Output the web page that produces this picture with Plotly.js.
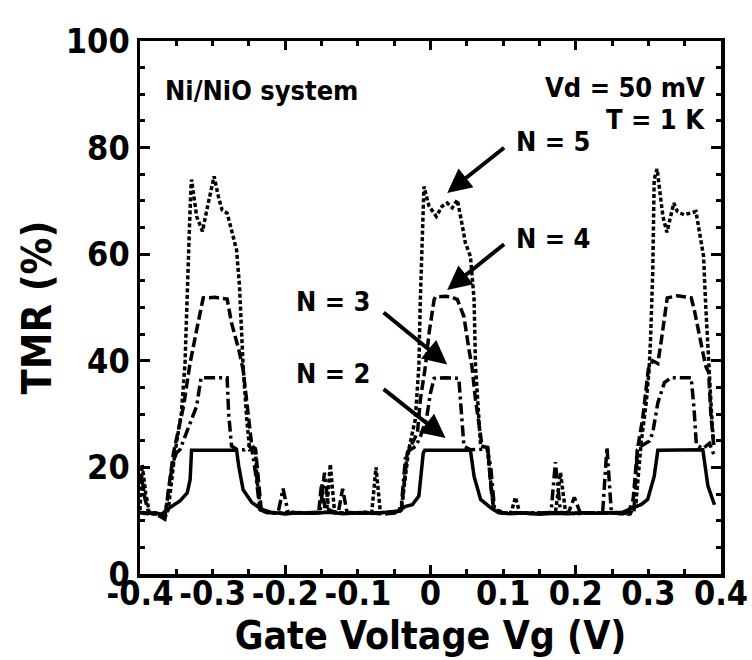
<!DOCTYPE html>
<html>
<head>
<meta charset="utf-8">
<script src="https://cdn.plot.ly/plotly-3.0.1.min.js"></script>
<style>html,body{margin:0;padding:0;background:#fff;}</style>
</head>
<body>
<div id="chart" style="width:752px;height:660px;"></div>
<script>
// ---- data ----
const n2X = [-0.400,-0.390,-0.380,-0.370,-0.363,-0.355,-0.345,-0.335,-0.331,-0.329,-0.300,-0.267,-0.264,-0.258,-0.246,-0.232,-0.220,-0.200,-0.180,-0.160,-0.140,-0.120,-0.100,-0.080,-0.060,-0.045,-0.034,-0.025,-0.016,-0.014,-0.010,-0.008,0.020,0.055,0.060,0.069,0.083,0.094,0.110,0.130,0.150,0.170,0.190,0.210,0.230,0.250,0.265,0.278,0.290,0.299,0.308,0.313,0.340,0.375,0.382,0.391];
const n2Y = [11.6,11.4,11.5,11.2,12.1,12.8,13.7,15.2,17.7,23.2,23.2,23.2,20.2,15.8,13.4,12.1,11.6,11.3,11.5,11.4,11.6,11.3,11.5,11.4,11.6,11.8,12.7,13.0,14.6,17.7,22.7,23.2,23.2,23.2,18.3,14.0,12.4,11.5,11.3,11.5,11.2,11.4,11.3,11.5,11.4,11.5,11.6,12.4,13.0,14.0,18.3,23.2,23.2,23.3,16.5,13.0];

const n3X = [-0.400,-0.390,-0.380,-0.372,-0.366,-0.356,-0.350,-0.345,-0.338,-0.322,-0.316,-0.300,-0.280,-0.278,-0.274,-0.266,-0.256,-0.250,-0.246,-0.240,-0.235,-0.225,-0.210,-0.203,-0.196,-0.180,-0.160,-0.152,-0.146,-0.140,-0.130,-0.110,-0.090,-0.070,-0.050,-0.044,-0.040,-0.034,-0.028,-0.020,-0.014,-0.012,-0.005,0.000,0.005,0.020,0.039,0.041,0.044,0.046,0.055,0.070,0.078,0.083,0.088,0.100,0.120,0.140,0.160,0.166,0.172,0.179,0.190,0.210,0.230,0.237,0.243,0.249,0.260,0.274,0.280,0.285,0.290,0.301,0.306,0.313,0.322,0.331,0.345,0.359,0.363,0.366,0.375,0.384,0.390];
const n3Y = [11.5,11.3,11.6,11.0,10.5,20.0,22.7,23.3,25.8,31.5,36.8,36.8,36.8,30.2,24.0,23.3,23.3,24.0,23.5,18.0,12.1,11.5,11.4,16.0,11.5,11.4,11.5,11.6,19.0,12.0,11.5,11.4,11.6,11.3,11.5,11.8,13.0,22.5,23.3,24.0,25.8,26.5,29.6,34.0,36.7,36.8,36.7,32.7,27.7,24.0,23.3,23.4,23.7,20.0,12.4,11.4,11.5,11.3,11.5,11.6,21.0,11.6,11.4,11.5,11.4,11.5,23.8,11.6,11.3,11.4,11.5,23.3,24.0,24.9,26.5,32.1,35.9,36.8,36.8,36.8,30.8,24.3,23.5,24.5,22.5];

const n4X = [-0.400,-0.398,-0.393,-0.388,-0.380,-0.372,-0.366,-0.354,-0.340,-0.331,-0.322,-0.313,-0.297,-0.280,-0.274,-0.264,-0.258,-0.251,-0.246,-0.241,-0.237,-0.233,-0.220,-0.200,-0.180,-0.160,-0.154,-0.150,-0.145,-0.130,-0.127,-0.121,-0.115,-0.100,-0.080,-0.060,-0.045,-0.040,-0.032,-0.018,-0.014,-0.007,-0.002,0.005,0.007,0.020,0.028,0.037,0.044,0.046,0.053,0.057,0.062,0.067,0.071,0.079,0.083,0.087,0.100,0.120,0.140,0.160,0.180,0.190,0.198,0.206,0.220,0.240,0.260,0.272,0.279,0.285,0.292,0.300,0.306,0.313,0.318,0.326,0.340,0.359,0.363,0.368,0.375,0.379,0.383,0.386,0.390];
const n4Y = [17.0,18.5,14.0,11.5,11.2,10.8,10.3,22.7,31.5,39.6,45.8,51.8,51.9,51.6,47.1,42.1,38.3,30.2,24.0,23.5,18.0,12.0,11.5,11.3,11.5,11.4,11.5,17.0,12.0,11.6,11.5,16.0,11.6,11.4,11.5,11.3,11.5,12.0,22.7,26.5,32.7,39.0,45.2,51.5,52.0,52.1,52.0,51.5,49.0,48.3,42.1,39.0,32.7,27.7,24.0,23.7,16.5,12.1,11.4,11.5,11.3,11.5,11.4,11.5,14.4,11.5,11.4,11.5,11.4,11.2,14.0,23.5,29.0,38.5,40.0,39.5,44.0,51.8,52.2,51.8,49.7,46.6,41.6,39.0,37.8,30.0,24.0];

const n5X = [-0.400,-0.397,-0.392,-0.387,-0.378,-0.370,-0.366,-0.361,-0.352,-0.343,-0.338,-0.335,-0.332,-0.330,-0.329,-0.322,-0.314,-0.306,-0.298,-0.292,-0.287,-0.280,-0.274,-0.267,-0.263,-0.260,-0.258,-0.253,-0.249,-0.241,-0.239,-0.234,-0.220,-0.210,-0.190,-0.170,-0.150,-0.143,-0.138,-0.132,-0.110,-0.090,-0.081,-0.075,-0.069,-0.055,-0.045,-0.041,-0.039,-0.030,-0.021,-0.016,-0.014,-0.012,-0.011,-0.009,-0.002,0.008,0.016,0.023,0.030,0.037,0.044,0.048,0.055,0.058,0.060,0.062,0.069,0.078,0.085,0.087,0.100,0.111,0.117,0.123,0.140,0.160,0.172,0.179,0.186,0.200,0.220,0.240,0.260,0.275,0.283,0.290,0.297,0.301,0.303,0.306,0.308,0.312,0.315,0.320,0.3255,0.331,0.335,0.340,0.349,0.3655,0.372,0.376,0.379,0.382,0.384,0.387,0.390];
const n5Y = [12.0,20.5,15.0,11.5,11.2,11.0,10.5,12.1,22.7,30.2,39.6,54.5,64.6,72.1,74.0,67.1,64.3,69.6,74.6,70.8,68.3,67.7,64.6,60.8,54.0,42.7,39.0,29.0,23.3,23.3,17.7,12.1,11.5,11.4,11.6,11.4,11.5,11.6,20.6,11.5,11.4,11.6,11.4,20.0,11.5,11.6,11.5,12.1,13.4,23.3,29.0,39.0,51.5,62.1,68.3,72.7,69.0,67.1,69.0,69.6,68.7,70.2,65.2,62.1,59.6,54.0,51.5,39.0,24.0,23.7,14.0,12.1,11.4,11.5,14.4,11.4,11.5,11.6,11.5,19.0,11.6,11.3,11.5,11.4,11.5,11.3,13.4,24.6,32.1,38.3,44.0,56.5,74.0,76.0,72.1,67.1,64.1,67.1,69.6,68.0,67.4,68.0,62.7,59.6,50.2,41.5,38.4,30.0,24.0];

const xTickVals = [-0.4,-0.3,-0.2,-0.1,0,0.1,0.2,0.3,0.4];
const xTickText = ['-0.4','-0.3','-0.2','-0.1','0','0.1','0.2','0.3','0.4'];
const xMajorTicks = [-0.4,-0.2,0,0.2,0.4];
const seriesLabels = ['N = 2','N = 3','N = 4','N = 5'];
const xTitle = 'Gate Voltage Vg (V)';
const yTitle = 'TMR (%)';
const noteLeft = 'Ni/NiO system';
const noteRight1 = 'Vd = 50 mV';
const noteRight2 = 'T = 1 K';

// ---- styling ----
const FAM = '"DejaVu Sans Condensed", "DejaVu Sans", sans-serif';
const f = (s) => ({family: FAM, size: s, color: '#000', weight: 'bold'});

const traces = [
  {x: n2X, y: n2Y, mode: 'lines', line: {color: '#000', width: 3.5, dash: 'solid'}, name: seriesLabels[0]},
  {x: n3X, y: n3Y, mode: 'lines', line: {color: '#000', width: 3.5, dash: '11px,4px,3px,4px'}, name: seriesLabels[1]},
  {x: n4X, y: n4Y, mode: 'lines', line: {color: '#000', width: 3.5, dash: '10px,4px'}, name: seriesLabels[2]},
  {x: n5X, y: n5Y, mode: 'lines', line: {color: '#000', width: 3.5, dash: '4px,2.5px'}, name: seriesLabels[3]},
  {x: [], y: [], xaxis: 'x2', mode: 'lines', showlegend: false, hoverinfo: 'skip'}
];

function arrow(hx, hy, tx, ty) {
  return {x: hx, y: hy, ax: tx, ay: ty, xref: 'x', yref: 'y', axref: 'x', ayref: 'y',
    text: '', showarrow: true, arrowhead: 2, arrowsize: 1.2, arrowwidth: 4, arrowcolor: '#000',
    standoff: 0, startstandoff: 0, font: {size: 1}};
}
function label(t, x, y, anchor, size) {
  return {x: x, y: y, xref: 'x', yref: 'y', text: t, showarrow: false,
    xanchor: anchor, yanchor: 'middle', font: f(size)};
}

const annotations = [
  arrow(0.023, 71.5, 0.1034, 80.2),
  arrow(0.023, 53.3, 0.1034, 62.1),
  arrow(0.023, 39.3, -0.0666, 49.3),
  arrow(0.0207, 25.5, -0.0666, 34.9),
  label(seriesLabels[3], 0.1145, 81.1, 'left', 27),
  label(seriesLabels[2], 0.1145, 62.9, 'left', 27),
  label(seriesLabels[1], -0.0786, 51.1, 'right', 27),
  label(seriesLabels[0], -0.0786, 37.7, 'right', 27),
  label(noteLeft, -0.368, 90.8, 'left', 27),
  label(noteRight1, 0.381, 91.2, 'right', 27),
  label(noteRight2, 0.381, 85.3, 'right', 27)
];

const layout = {
  width: 752, height: 660,
  margin: {l: 140, r: 31, t: 41, b: 86, pad: 0},
  paper_bgcolor: '#fff', plot_bgcolor: '#fff',
  showlegend: false,
  xaxis: {
    range: [-0.4, 0.4], tickmode: 'array', tickvals: xTickVals, ticktext: xTickText,
    ticks: 'inside', ticklen: 5, tickwidth: 3, tickcolor: '#000',
    minor: {tickmode: 'linear', tick0: -0.4, dtick: 0.05, ticks: 'inside', ticklen: 5, tickwidth: 3, tickcolor: '#000', showgrid: false},
    showline: true, linewidth: 3.5, linecolor: '#000', mirror: 'ticks',
    showgrid: false, zeroline: false, automargin: false,
    tickfont: f(34), ticklabelstandoff: -13,
    title: {text: xTitle, font: f(39), standoff: 8}
  },
  xaxis2: {
    range: [-0.4, 0.4], overlaying: 'x', anchor: 'y', side: 'bottom',
    tickmode: 'array', tickvals: xMajorTicks, ticks: 'inside', ticklen: 9, tickwidth: 3, tickcolor: '#000',
    showticklabels: false, showline: false, mirror: 'ticks', showgrid: false, zeroline: false
  },
  yaxis: {
    range: [0, 100], tickmode: 'linear', tick0: 0, dtick: 20,
    ticks: 'inside', ticklen: 10, tickwidth: 3, tickcolor: '#000',
    minor: {tickmode: 'linear', tick0: 0, dtick: 5, ticks: 'inside', ticklen: 5, tickwidth: 3, tickcolor: '#000', showgrid: false},
    showline: true, linewidth: 3.5, linecolor: '#000', mirror: 'ticks',
    showgrid: false, zeroline: false, automargin: false,
    tickfont: f(34),
    title: {text: yTitle, font: f(41), standoff: 2}
  },
  annotations: annotations
};

Plotly.newPlot('chart', traces, layout, {staticPlot: true, displayModeBar: false});
</script>
</body>
</html>
